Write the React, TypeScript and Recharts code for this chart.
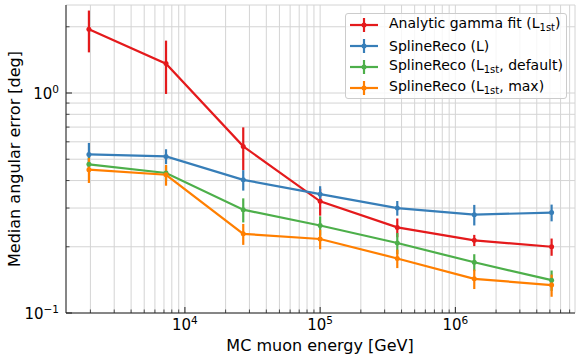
import React from 'react';
import { LineChart, Line, XAxis, YAxis, CartesianGrid, ErrorBar } from 'recharts';

const energies = [1950, 7250, 27000, 100000, 372000, 1380000, 5150000];
const analyticGamma = [1.95, 1.36, 0.572, 0.322, 0.245, 0.214, 0.2];
const analyticGammaErr = [0.42, 0.37, 0.126, 0.045, 0.024, 0.0125, 0.018];
const splineL = [0.526, 0.515, 0.403, 0.347, 0.3, 0.28, 0.286];
const splineLErr = [0.067, 0.04, 0.043, 0.03, 0.023, 0.03, 0.025];
const splineDefault = [0.474, 0.433, 0.295, 0.25, 0.208, 0.17, 0.141];
const splineDefaultErr = [0.035, 0.035, 0.037, 0.025, 0.023, 0.015, 0.015];
const splineMax = [0.448, 0.425, 0.229, 0.217, 0.177, 0.143, 0.134];
const splineMaxErr = [0.058, 0.046, 0.025, 0.022, 0.017, 0.0145, 0.0155];

const xTicks = [
  2000, 3000, 4000, 5000, 6000, 7000, 8000, 9000,
  10000, 20000, 30000, 40000, 50000, 60000, 70000, 80000, 90000,
  100000, 200000, 300000, 400000, 500000, 600000, 700000, 800000, 900000,
  1000000, 2000000, 3000000, 4000000, 5000000, 6000000, 7000000,
];
const yTicks = [0.1, 0.2, 0.3, 0.4, 0.5, 0.6, 0.7, 0.8, 0.9, 1, 2];
const xDomain = [1320, 7670000];
const yDomain = [0.1, 2.512];

const xLabel = 'MC muon energy [GeV]';
const yLabel = 'Median angular error [deg]';

const series = [
  { key: 'gamma', err: 'gammaErr', color: '#e41a1c', values: analyticGamma, errs: analyticGammaErr, label: ['Analytic gamma fit (L', '1st', ')'] },
  { key: 'splineL', err: 'splineLErr', color: '#377eb8', values: splineL, errs: splineLErr, label: ['SplineReco (L)', '', ''] },
  { key: 'splineDef', err: 'splineDefErr', color: '#4daf4a', values: splineDefault, errs: splineDefaultErr, label: ['SplineReco (L', '1st', ', default)'] },
  { key: 'splineMax', err: 'splineMaxErr', color: '#ff7f00', values: splineMax, errs: splineMaxErr, label: ['SplineReco (L', '1st', ', max)'] },
];

const data = energies.map((e, i) => {
  const row: any = { energy: e };
  series.forEach((s) => {
    row[s.key] = s.values[i];
    row[s.err] = s.errs[i];
  });
  return row;
});

const FONT = '"DejaVu Sans", sans-serif';

const isMajor = (v: number) => Math.abs(Math.log10(v) - Math.round(Math.log10(v))) < 1e-6;
const expText = (v: number) => {
  const e = Math.round(Math.log10(v));
  return e < 0 ? '\u2212' + Math.abs(e) : String(e);
};

const XTick = (props: any) => {
  const { x, y, payload } = props;
  const v = payload.value;
  const major = isMajor(v);
  return (
    <g>
      <line x1={x} x2={x} y1={y} y2={y - (major ? 6 : 3.5)} stroke="#222" strokeWidth={major ? 1 : 0.8} />
      {major && (
        <text x={x} y={y + 17} textAnchor="middle" fontSize={15} fontFamily={FONT} fill="#000">
          10<tspan dy={-6} fontSize={10.5}>{expText(v)}</tspan>
        </text>
      )}
    </g>
  );
};

const YTick = (props: any) => {
  const { x, y, payload } = props;
  const v = payload.value;
  const major = isMajor(v);
  return (
    <g>
      <line x1={x} x2={x + (major ? 6 : 3.5)} y1={y} y2={y} stroke="#222" strokeWidth={major ? 1 : 0.8} />
      {major && (
        <text x={x - 7} y={y + 5.5} textAnchor="end" fontSize={15} fontFamily={FONT} fill="#000">
          10<tspan dy={-6} fontSize={10.5}>{expText(v)}</tspan>
        </text>
      )}
    </g>
  );
};

const LegendBox = () => (
  <div
    style={{
      position: 'absolute',
      left: 345,
      top: 13,
      width: 222,
      height: 86,
      border: '1px solid #cccccc',
      borderRadius: 3,
      background: 'rgba(255,255,255,0.8)',
      boxSizing: 'border-box',
      fontFamily: FONT,
      fontSize: 14,
      color: '#000',
    }}
  >
    {series.map((s, i) => (
      <div
        key={s.key}
        style={{ position: 'absolute', left: 3, top: 1 + i * 21, height: 20, display: 'flex', alignItems: 'center', whiteSpace: 'nowrap' }}
      >
        <svg width={30} height={16} style={{ display: 'block' }}>
          <line x1={1} x2={29} y1={8} y2={8} stroke={s.color} strokeWidth={2.2} />
          <line x1={15} x2={15} y1={1} y2={15} stroke={s.color} strokeWidth={2.2} />
          <circle cx={15} cy={8} r={2.5} fill={s.color} />
        </svg>
        <span style={{ marginLeft: 10, lineHeight: '20px' }}>
          {s.label[0]}
          {s.label[1] && <sub style={{ fontSize: 10, verticalAlign: -3 }}>{s.label[1]}</sub>}
          {s.label[2]}
        </span>
      </div>
    ))}
  </div>
);

export default function App() {
  return (
    <div style={{ position: 'absolute', left: 0, top: 0, width: 581, height: 359, background: '#fff' }}>
      <LineChart width={581} height={359} data={data} margin={{ top: 5, right: 6, bottom: 0, left: 0 }}>
        <CartesianGrid stroke="#d4d4d4" strokeWidth={1} />
        <XAxis
          dataKey="energy"
          type="number"
          scale="log"
          domain={xDomain}
          allowDataOverflow
          ticks={xTicks}
          interval={0}
          tick={<XTick />}
          tickLine={false}
          tickSize={0}
          tickMargin={0}
          height={46}
          axisLine={{ stroke: '#222', strokeWidth: 1 }}
          label={() => (
            <text x={320} y={351} textAnchor="middle" fontSize={16} fontFamily={FONT} fill="#000">
              {xLabel}
            </text>
          )}
        />
        <XAxis
          xAxisId="top"
          dataKey="energy"
          orientation="top"
          type="number"
          scale="log"
          domain={xDomain}
          allowDataOverflow
          tick={false}
          tickLine={false}
          height={0}
          axisLine={{ stroke: '#222', strokeWidth: 1 }}
        />
        <YAxis
          type="number"
          scale="log"
          domain={yDomain}
          allowDataOverflow
          ticks={yTicks}
          interval={0}
          tick={<YTick />}
          tickLine={false}
          tickSize={0}
          tickMargin={0}
          width={66}
          axisLine={{ stroke: '#222', strokeWidth: 1 }}
          label={() => (
            <text
              x={19.5}
              y={159}
              transform="rotate(-90 19.5 159)"
              textAnchor="middle"
              fontSize={16}
              fontFamily={FONT}
              fill="#000"
            >
              {yLabel}
            </text>
          )}
        />
        <YAxis
          yAxisId="right"
          orientation="right"
          type="number"
          scale="log"
          domain={yDomain}
          allowDataOverflow
          tick={false}
          tickLine={false}
          width={0}
          axisLine={{ stroke: '#222', strokeWidth: 1 }}
        />
        {series.map((s) => (
          <Line
            key={s.key}
            dataKey={s.key}
            type="linear"
            stroke={s.color}
            strokeWidth={2.2}
            dot={{ r: 2.5, fill: s.color, stroke: 'none' }}
            activeDot={false}
            isAnimationActive={false}
          >
            <ErrorBar dataKey={s.err} direction="y" width={0} stroke={s.color} strokeWidth={2.2} />
          </Line>
        ))}
      </LineChart>
      <LegendBox />
    </div>
  );
}
